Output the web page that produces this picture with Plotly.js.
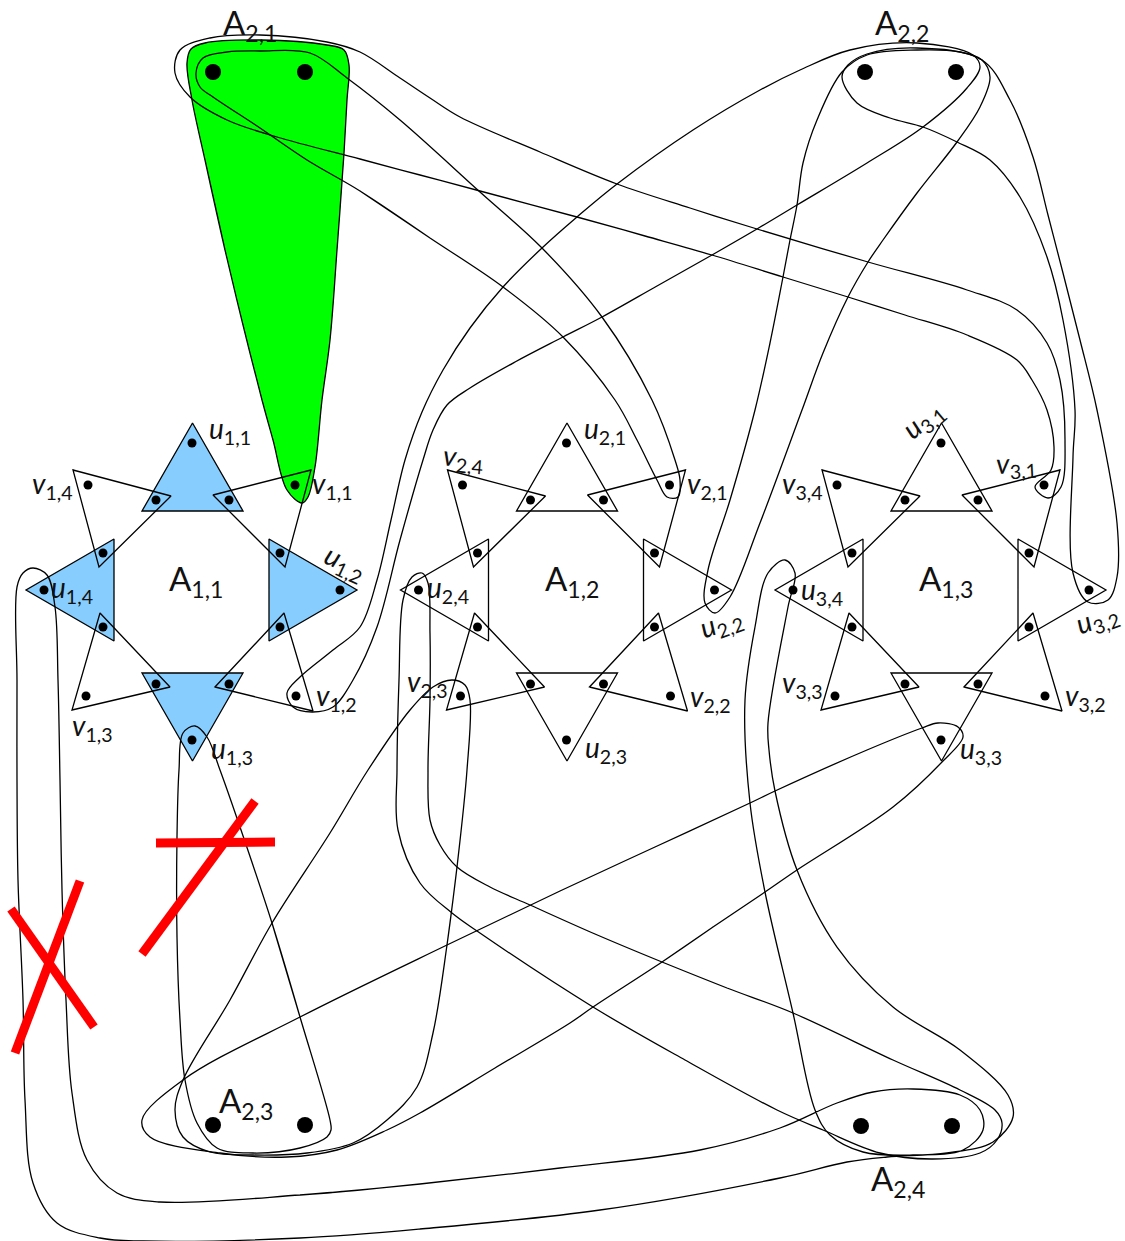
<!DOCTYPE html>
<html><head><meta charset="utf-8">
<script src="https://cdn.plot.ly/plotly-3.0.1.min.js"></script>
<style>html,body{margin:0;padding:0;background:#fff}#g{width:1125px;height:1241px}</style></head>
<body><div id="g"></div>
<script>
// gadget geometry (gadget 1), horizontal offsets of gadgets
const gadgetOffsets=[0,374.5,749];
const uTriangles=[[[192.5,423],[142,511],[243,511]],[[357,590],[269,539],[269,641]],[[192.5,761],[142,673],[243,673]],[[26,590],[114,539],[114,641]]];
const vTriangles=[[[311,470],[213,495],[285,567]],[[313,711],[215,687],[284,613]],[[72,710],[170,687],[100,613]],[[73,470],[171,496],[99,567]]];
const smallDots=[[192,443],[156,500],[229,500],[88,485],[295,485],[103,553],[280,553],[44,590],[340,590],[103,627],[280,627],[156,684],[229,684],[86,696],[296,696],[192,740]];
const bigDots=[[213,72],[305,72],[865,72],[956,72],[213,1125],[305,1125],[861,1126],[952,1126]];
const greenHull=[[225,250],[205,160],[192,100],[187,63],[191,49],[205,43],[260,40],[327,45],[344,50],[349,65],[347,100],[344,153],[337,250],[330,340],[322,400],[315,467],[308,497],[302,503],[287,490],[273,440],[262,400],[243,325]];
const hullA21V31=[[848,297],[783,277],[712,255],[645,236],[577,217],[480,191],[420,175],[360,159],[277,137],[227,120],[190,97],[175,73],[180,50],[210,38],[260,35],[327,42],[360,52],[400,78],[430,98],[460,117],[540,152],[617,184],[690,208],[757,229],[868,262],[967,290],[1017,310],[1047,343],[1060,380],[1065,440],[1061,487],[1048,498],[1035,487],[1051,470],[1054,447],[1047,410],[1032,380],[1017,360],[967,335],[905,315]];
const hullA21V21=[[360,191],[430,238],[503,287],[563,337],[615,400],[637,440],[657,480],[667,497],[678,497],[680,480],[675,460],[652,400],[602,317],[542,248],[480,192],[400,120],[347,78],[310,53],[260,51],[227,52],[203,58],[196,73],[200,87],[213,97],[260,128],[307,160]];
const hullA22V12=[[712,255],[757,229],[797,205],[867,163],[923,127],[967,88],[980,67],[973,55],[917,43],[850,50],[800,70],[760,90],[693,130],[617,184],[577,217],[542,248],[503,287],[470,328],[443,370],[422,412],[405,460],[391,520],[377,580],[360,627],[333,650],[300,677],[287,693],[293,707],[312,712],[333,707],[353,680],[377,627],[400,540],[423,460],[433,430],[447,405],[470,388],[515,362],[563,337],[602,317],[657,286]];
const hullA22U22=[[790,240],[783,277],[770,343],[755,410],[730,500],[708,570],[705,603],[715,613],[730,597],[760,523],[802,410],[823,353],[848,297],[868,262],[883,240],[917,193],[957,142],[980,107],[990,77],[982,60],[960,52],[917,50],[867,55],[842,72],[817,120],[803,163],[797,205]];
const hullA22U32=[[1063,273],[1080,340],[1097,410],[1117,523],[1117,577],[1108,600],[1088,602],[1073,573],[1073,457],[1075,410],[1063,320],[1047,257],[1020,197],[990,160],[957,142],[923,127],[890,118],[857,103],[842,77],[848,65],[867,54],[917,48],[982,60],[1010,100],[1033,157],[1048,215]];
const hullA23U13=[[272,923],[300,1017],[330,1120],[331,1130],[327,1137],[300,1148],[253,1153],[217,1148],[197,1123],[185,1080],[180,1020],[177,937],[177,837],[179,770],[183,733],[195,726],[207,737],[220,770],[240,827]];
const hullA23V23=[[447,945],[457,867],[467,770],[470,700],[465,685],[452,680],[433,687],[410,710],[368,770],[330,833],[272,923],[230,1000],[183,1080],[175,1110],[183,1137],[210,1152],[253,1155],[307,1153],[353,1143],[387,1120],[417,1087],[433,1033]];
const hullA23U33=[[662,962],[713,927],[765,892],[797,870],[893,807],[942,762],[963,737],[958,727],[938,723],[922,728],[867,750],[775,791],[750,803],[655,847],[560,891],[447,945],[300,1017],[183,1080],[142,1120],[150,1137],[220,1153],[287,1157],[337,1150],[387,1130],[420,1113],[495,1068],[570,1023],[593,1007]];
const hullA24U24=[[662,962],[727,988],[793,1013],[893,1060],[960,1090],[995,1110],[1002,1123],[997,1140],[980,1153],[933,1159],[880,1153],[823,1130],[777,1110],[685,1060],[593,1007],[477,931],[452,913],[420,883],[398,830],[397,770],[399,680],[403,600],[412,577],[422,573],[428,583],[430,633],[430,700],[428,770],[430,820],[440,845],[457,867],[490,887],[530,905],[595,934]];
const hullA24U14U34=[[300,1195],[360,1190],[420,1184],[560,1168],[700,1150],[780,1128],[837,1103],[873,1092],[913,1089],[960,1095],[980,1110],[983,1130],[963,1150],[913,1155],[863,1152],[830,1135],[815,1110],[793,1013],[765,892],[750,803],[745,700],[755,627],[768,573],[785,560],[795,573],[788,607],[768,723],[769,750],[775,791],[797,870],[837,947],[893,1007],[960,1050],[1008,1095],[1013,1117],[993,1142],[947,1153],[887,1157],[847,1162],[780,1178],[600,1210],[420,1229],[300,1238],[143,1241],[100,1238],[57,1223],[33,1183],[25,1100],[23,1000],[18,880],[17,780],[17,680],[17,587],[23,573],[33,568],[47,575],[55,607],[58,680],[60,780],[62,890],[66,1000],[72,1093],[87,1160],[117,1193],[160,1202]];
const curves=[hullA21V31,hullA21V21,hullA22V12,hullA22U22,hullA22U32,hullA23U13,hullA23V23,hullA23U33,hullA24U24,hullA24U14U34];
const crossStrokes=[[[156,843],[275,842]],[[142,954],[255,801]],[[11,909],[94,1027]],[[80,881],[15,1053]]];
const labelTexts=["u|1,1","v|1,1","u|1,2","v|1,2","u|1,3","v|1,3","u|1,4","v|1,4","u|2,1","v|2,1","u|2,2","v|2,2","u|2,3","v|2,3","u|2,4","v|2,4","u|3,1","v|3,1","u|3,2","v|3,2","u|3,3","v|3,3","u|3,4","v|3,4"];
const labelX=[230,332,345,336,232,92,72,52,605,707,721,710,606,427,448,463,923,1016,1097,1085,981,802,822,802];
const labelY=[430,485,563,697,750,727,589,485,430,485,623,698,749,683,589,458,420,464,619,697,750,684,591,485];
const labelAngle=[0,0,25,0,0,0,0,0,0,0,-20,0,0,0,0,5,-40,-3,-20,0,0,0,0,0];
const bigLabelTexts=["A|1,1","A|1,2","A|1,3","A|2,1","A|2,2","A|2,3","A|2,4"];
const bigLabelX=[196,572,946,250,902,246,898];
const bigLabelY=[580,580,580,24,24,1102,1180];

const BLUE='#87ceff',GREEN='#00ff00',RED='#ff0000';
const xs=p=>p.map(q=>q[0]),ys=p=>p.map(q=>q[1]);
const closeIt=p=>p.concat([p[0],p[0]]);
const closeSmooth=p=>p.concat([p[0],p[1]]);
const traces=[];
uTriangles.forEach(t=>traces.push({x:xs(closeIt(t)),y:ys(closeIt(t)),mode:'none',fill:'toself',fillcolor:BLUE,hoverinfo:'skip'}));
traces.push({x:xs(closeSmooth(greenHull)),y:ys(closeSmooth(greenHull)),mode:'lines',fill:'toself',fillcolor:GREEN,line:{color:'#000',width:1.3,shape:'spline',smoothing:1,simplify:false}});
gadgetOffsets.forEach(dx=>{
  uTriangles.concat(vTriangles).forEach(t=>{const c=t.concat([t[0],t[1]]);
    traces.push({x:c.map(q=>q[0]+dx),y:ys(c),mode:'lines',line:{color:'#000',width:1.3}});});
  traces.push({x:xs(smallDots).map(v=>v+dx),y:ys(smallDots),mode:'markers',marker:{color:'#000',size:9}});
});
traces.push({x:xs(bigDots),y:ys(bigDots),mode:'markers',marker:{color:'#000',size:16}});
curves.forEach(c=>{const p=closeSmooth(c);traces.push({x:xs(p),y:ys(p),mode:'lines',line:{color:'#000',width:1.3,shape:'spline',smoothing:1,simplify:false}});});
crossStrokes.forEach(s=>traces.push({x:xs(s),y:ys(s),mode:'lines',line:{color:RED,width:9}}));
const fmt=(s,it)=>{const a=s.split('|');return (it?'<i>'+a[0]+'</i>':a[0])+'<sub>'+a[1]+'</sub>';};
const FONT='Lato, "Open Sans", sans-serif';
const ann=[];
labelTexts.forEach((s,i)=>ann.push({x:labelX[i],y:labelY[i],xref:'x',yref:'y',text:fmt(s,true),showarrow:false,textangle:labelAngle[i],font:{family:FONT,size:28,color:'#111'}}));
bigLabelTexts.forEach((s,i)=>ann.push({x:bigLabelX[i],y:bigLabelY[i],xref:'x',yref:'y',text:fmt(s,false),showarrow:false,font:{family:FONT,size:33,color:'#111'}}));
Plotly.newPlot('g',traces,{width:1125,height:1241,margin:{l:0,r:0,t:0,b:0},showlegend:false,paper_bgcolor:'#fff',plot_bgcolor:'#fff',hovermode:false,
 xaxis:{range:[0,1125],visible:false,fixedrange:true},yaxis:{range:[1241,0],visible:false,fixedrange:true},annotations:ann},{displayModeBar:false,staticPlot:true});
</script></body></html>
